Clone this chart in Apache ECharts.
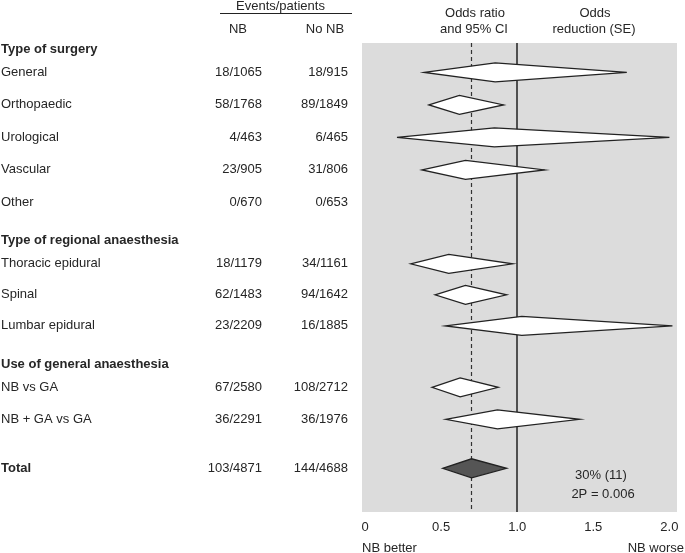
<!DOCTYPE html>
<html><head><meta charset="utf-8">
<script src="https://cdn.jsdelivr.net/npm/echarts@6/dist/echarts.min.js"></script>
<style>html,body{margin:0;padding:0;background:#fff}#c{width:685px;height:553px}</style>
</head><body><div id="c"></div>
<script>
// ---- data ----
const groupHeaders = ['Type of surgery', 'Type of regional anaesthesia', 'Use of general anaesthesia'];
const groupSizes = [5, 3, 2];
const rowLabels = ['General', 'Orthopaedic', 'Urological', 'Vascular', 'Other',
  'Thoracic epidural', 'Spinal', 'Lumbar epidural', 'NB vs GA', 'NB + GA vs GA', 'Total'];
const nbEvents = ['18/1065', '58/1768', '4/463', '23/905', '0/670', '18/1179', '62/1483', '23/2209', '67/2580', '36/2291', '103/4871'];
const noNbEvents = ['18/915', '89/1849', '6/465', '31/806', '0/653', '34/1161', '94/1642', '16/1885', '108/2712', '36/1976', '144/4688'];
const oddsRatio = [0.855, 0.62, 0.85, 0.66, null, 0.55, 0.66, 1.03, 0.625, 0.87, 0.70];
const ciLow = [0.39, 0.42, 0.21, 0.375, null, 0.30, 0.46, 0.53, 0.44, 0.53, 0.51];
const ciHigh = [1.72, 0.91, 2.0, 1.18, null, 0.97, 0.93, 2.02, 0.875, 1.41, 0.93];
const xTicks = [0, 0.5, 1, 1.5, 2];
const summaryText = ['30% (11)', '2P = 0.006'];

// ---- layout (row lines) ----
const groupSteps = [1.015, 0.97, 1.0];
const rowY = [], headerY = [];
let cur = 0.2;
groupSizes.forEach((n, g) => {
  headerY.push(cur);
  for (let i = 0; i < n; i++) rowY.push(cur + 0.72 + i * groupSteps[g]);
  cur = rowY[rowY.length - 1] + 1.2;
});
rowY.push(rowY[rowY.length - 1] + 1.53); // Total
const totalIdx = rowLabels.length - 1;

const tableRows = [];
groupHeaders.forEach((h, g) => tableRows.push({ y: headerY[g], label: h, bold: true }));
rowLabels.forEach((l, i) => tableRows.push({ y: rowY[i], label: l, bold: i === totalIdx, nb: nbEvents[i], nonb: noNbEvents[i] }));

const diamonds = [];
rowLabels.forEach((l, i) => {
  if (oddsRatio[i] != null) diamonds.push({ value: [oddsRatio[i], rowY[i], ciLow[i], ciHigh[i]], total: i === totalIdx });
});

const FONT = "'Liberation Sans', Arial, Helvetica, sans-serif";
const TXT = '#262626';

const chart = echarts.init(document.getElementById('c'), null, { renderer: 'canvas' });
chart.setOption({
  animation: false,
  backgroundColor: '#fff',
  grid: { left: 362, top: 43, width: 315, height: 469, show: true, backgroundColor: '#dcdcdc', borderWidth: 0 },
  xAxis: {
    type: 'value', min: -0.02, max: 2.05,
    axisLine: { show: false }, axisTick: { show: false }, splitLine: { show: false },
    axisLabel: {
      customValues: xTicks, margin: 9, color: TXT, fontSize: 13, fontFamily: FONT,
      formatter: v => (v === 0 ? '0' : v.toFixed(1))
    }
  },
  yAxis: { type: 'value', min: 0, max: 469 / 32, inverse: true, show: false },
  graphic: [
    { type: 'text', left: 236, top: 0, style: { text: 'Events/patients', fontSize: 13, fontFamily: FONT, fill: TXT } },
    { type: 'line', shape: { x1: 220, y1: 13.5, x2: 352, y2: 13.5 }, style: { stroke: '#222', lineWidth: 1.2 } },
    { type: 'text', x: 238, y: 29, style: { text: 'NB', align: 'center', verticalAlign: 'middle', fontSize: 13, fontFamily: FONT, fill: TXT } },
    { type: 'text', x: 325, y: 29, style: { text: 'No NB', align: 'center', verticalAlign: 'middle', fontSize: 13, fontFamily: FONT, fill: TXT } },
    { type: 'text', x: 475, y: 13, style: { text: 'Odds ratio', align: 'center', verticalAlign: 'middle', fontSize: 13, fontFamily: FONT, fill: TXT } },
    { type: 'text', x: 474, y: 29, style: { text: 'and 95% CI', align: 'center', verticalAlign: 'middle', fontSize: 13, fontFamily: FONT, fill: TXT } },
    { type: 'text', x: 595, y: 13, style: { text: 'Odds', align: 'center', verticalAlign: 'middle', fontSize: 13, fontFamily: FONT, fill: TXT } },
    { type: 'text', x: 594, y: 29, style: { text: 'reduction (SE)', align: 'center', verticalAlign: 'middle', fontSize: 13, fontFamily: FONT, fill: TXT } },
    { type: 'text', x: 601, y: 475, z: 10, style: { text: summaryText[0], align: 'center', verticalAlign: 'middle', fontSize: 13, fontFamily: FONT, fill: TXT } },
    { type: 'text', x: 603, y: 494, z: 10, style: { text: summaryText[1], align: 'center', verticalAlign: 'middle', fontSize: 13, fontFamily: FONT, fill: TXT } },
    { type: 'text', x: 362, y: 548, style: { text: 'NB better', align: 'left', verticalAlign: 'middle', fontSize: 13, fontFamily: FONT, fill: TXT } },
    { type: 'text', x: 684, y: 548, style: { text: 'NB worse', align: 'right', verticalAlign: 'middle', fontSize: 13, fontFamily: FONT, fill: TXT } }
  ],
  series: [
    {
      type: 'scatter', data: [], z: 1, silent: true,
      markLine: {
        silent: true, symbol: ['none', 'none'], label: { show: false },
        data: [
          { xAxis: 1, lineStyle: { type: 'solid', color: '#222', width: 1.5 } },
          { xAxis: oddsRatio[totalIdx], lineStyle: { type: [4, 3], color: '#333', width: 1.2 } }
        ]
      }
    },
    {
      type: 'custom', z: 5, silent: true, clip: false,
      data: diamonds,
      encode: { x: [0, 2, 3], y: 1 },
      renderItem: (params, api) => {
        const o = api.value(0), y = api.value(1), lo = api.value(2), hi = api.value(3);
        const c = api.coord([o, y]), l = api.coord([lo, y]), r = api.coord([hi, y]);
        const h = 9.5;
        const isTotal = diamonds[params.dataIndex].total;
        return {
          type: 'polygon',
          shape: { points: [[l[0], c[1]], [c[0], c[1] - h], [r[0], c[1]], [c[0], c[1] + h]] },
          style: { fill: isTotal ? '#555' : '#fff', stroke: '#222', lineWidth: 1.3, lineJoin: 'miter' }
        };
      }
    },
    {
      type: 'custom', z: 5, silent: true, clip: false,
      data: tableRows.map(r => [0, r.y]),
      encode: { x: 0, y: 1 },
      renderItem: (params, api) => {
        const d = tableRows[params.dataIndex];
        const y = api.coord([0, d.y])[1];
        const base = { fontSize: 13, fontFamily: FONT, fill: TXT, verticalAlign: 'middle' };
        const children = [{ type: 'text', style: Object.assign({}, base, { text: d.label, x: 1, y: y, align: 'left', fontWeight: d.bold ? 'bold' : 'normal' }) }];
        if (d.nb) children.push({ type: 'text', style: Object.assign({}, base, { text: d.nb, x: 262, y: y, align: 'right' }) });
        if (d.nonb) children.push({ type: 'text', style: Object.assign({}, base, { text: d.nonb, x: 348, y: y, align: 'right' }) });
        return { type: 'group', children: children };
      }
    }
  ]
});
</script>
</body></html>
